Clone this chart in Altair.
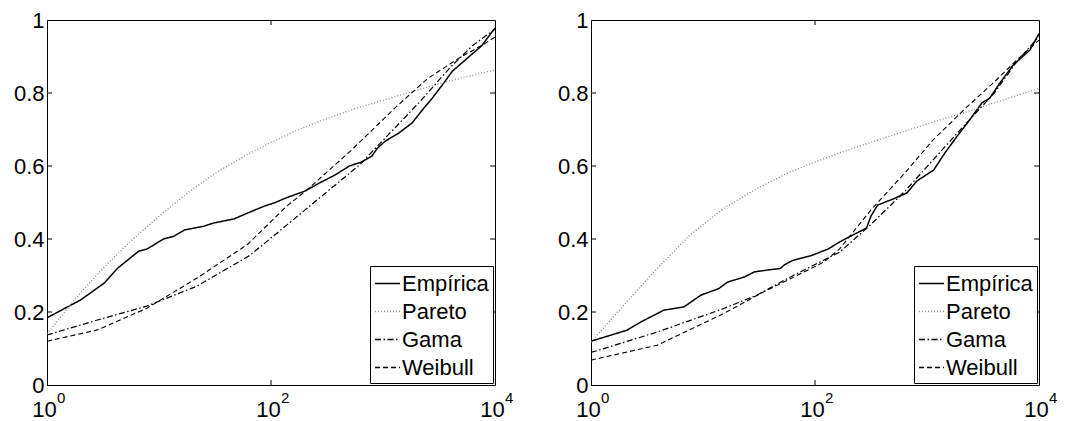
import altair as alt
import pandas as pd

# ---------- data (x given as log10 exponent) ----------
SERIES = ["Empírica", "Pareto", "Gama", "Weibull"]

# Left panel
l_emp_e = [0, 0.30, 0.51, 0.63, 0.82, 0.89, 1.04, 1.13, 1.23, 1.40, 1.49, 1.67, 1.79, 1.94, 2.03, 2.13,
           2.30, 2.43, 2.57, 2.70, 2.81, 2.90, 2.95, 3.02, 3.14, 3.26, 3.35, 3.44, 3.53, 3.62, 3.77, 3.88, 4.0]
l_emp_y = [0.184, 0.233, 0.279, 0.320, 0.367, 0.372, 0.400, 0.407, 0.425, 0.435, 0.444, 0.455, 0.471, 0.490,
           0.499, 0.512, 0.531, 0.553, 0.575, 0.600, 0.611, 0.627, 0.649, 0.668, 0.690, 0.718, 0.753, 0.786,
           0.822, 0.860, 0.900, 0.929, 0.978]
l_par_e = [0, 0.25, 0.5, 0.75, 1.0, 1.25, 1.5, 1.75, 2.0, 2.25, 2.5, 2.75, 3.0, 3.25, 3.5, 3.75, 4.0]
l_par_y = [0.14, 0.235, 0.32, 0.395, 0.462, 0.525, 0.58, 0.625, 0.665, 0.70, 0.73, 0.757, 0.78, 0.803,
           0.825, 0.845, 0.863]
l_gam_e = [0, 0.45, 0.89, 1.34, 1.81, 2.14, 2.79, 3.32, 3.6, 3.8, 4.0]
l_gam_y = [0.137, 0.178, 0.216, 0.271, 0.355, 0.438, 0.603, 0.773, 0.87, 0.93, 0.975]
l_wei_e = [0, 0.45, 0.89, 1.34, 1.79, 2.14, 2.32, 2.72, 3.11, 3.40, 3.68, 3.88, 4.0]
l_wei_y = [0.12, 0.151, 0.21, 0.293, 0.385, 0.49, 0.534, 0.644, 0.76, 0.84, 0.896, 0.93, 0.953]

# Right panel
r_emp_e = [0, 0.32, 0.46, 0.65, 0.83, 0.98, 1.14, 1.22, 1.37, 1.46, 1.60, 1.69, 1.73, 1.80, 1.97, 2.12,
           2.22, 2.30, 2.46, 2.50, 2.56, 2.70, 2.82, 2.91, 3.06, 3.16, 3.27, 3.38, 3.49, 3.56, 3.65, 3.77,
           3.92, 4.0]
r_emp_y = [0.12, 0.15, 0.175, 0.205, 0.214, 0.246, 0.264, 0.282, 0.296, 0.31, 0.316, 0.319, 0.33,
           0.341, 0.355, 0.373, 0.392, 0.405, 0.430, 0.463, 0.493, 0.510, 0.526, 0.559, 0.589, 0.636,
           0.682, 0.726, 0.773, 0.786, 0.827, 0.877, 0.918, 0.963]
r_par_e = [0, 0.29, 0.59, 0.88, 1.18, 1.48, 1.78, 2.0, 2.22, 2.46, 2.75, 3.05, 3.35, 3.65, 4.0]
r_par_y = [0.118, 0.218, 0.319, 0.41, 0.483, 0.538, 0.584, 0.611, 0.636, 0.661, 0.69, 0.72, 0.748,
           0.778, 0.813]
r_gam_e = [0, 0.59, 1.18, 1.48, 1.78, 2.22, 2.5, 2.8, 3.05, 3.3, 3.6, 3.8, 4.0]
r_gam_y = [0.089, 0.145, 0.209, 0.246, 0.296, 0.364, 0.44, 0.53, 0.615, 0.70, 0.80, 0.885, 0.955]
r_wei_e = [0, 0.59, 1.18, 1.54, 1.78, 2.08, 2.22, 2.5, 2.8, 3.05, 3.35, 3.6, 3.8, 4.0]
r_wei_y = [0.068, 0.109, 0.195, 0.255, 0.291, 0.337, 0.373, 0.48, 0.58, 0.67, 0.76, 0.83, 0.89, 0.945]

x_ticks = [1, 100, 10000]
x_exponents = ["0", "2", "4"]
y_ticks = [0, 0.2, 0.4, 0.6, 0.8, 1]
inner_y_ticks = [0.2, 0.4, 0.6, 0.8]
inner_x_ticks = [100]

W, H = 448, 365
FONT = "Liberation Sans"


def build_frame(parts):
    rows = []
    for name, e, y in parts:
        for ei, yi in zip(e, y):
            rows.append({"x": 10 ** ei, "y": yi, "serie": name})
    return pd.DataFrame(rows)


def panel(df):
    xs = alt.Scale(type="log", domain=[1, 10000], nice=False)
    ys = alt.Scale(domain=[0, 1], nice=False)
    lines = alt.Chart(df).mark_line(clip=True).encode(
        x=alt.X("x:Q", scale=xs, title=None,
                axis=alt.Axis(values=x_ticks, ticks=False, grid=False, labelFlush=False,
                              labelExpr="'10'", labelOffset=-3, labelPadding=14)),
        y=alt.Y("y:Q", scale=ys, title=None,
                axis=alt.Axis(values=y_ticks, ticks=False, grid=False, format="~g",
                              labelPadding=3)),
        color=alt.Color("serie:N", sort=SERIES,
                        scale=alt.Scale(domain=SERIES, range=["#000000", "#8c8c8c", "#000000", "#000000"]),
                        legend=alt.Legend(title=None, orient="bottom-right", offset=2)),
        strokeDash=alt.StrokeDash("serie:N", sort=SERIES,
                                  scale=alt.Scale(domain=SERIES, range=[[1, 0], [1, 2], [6, 2.5, 1.5, 2.5], [5, 3]]),
                                  legend=alt.Legend(title=None, orient="bottom-right", offset=2)),
        size=alt.Size("serie:N", scale=alt.Scale(domain=SERIES, range=[1.5, 1.1, 1.2, 1.2]), legend=None),
    )
    yt = pd.DataFrame({"t": inner_y_ticks})
    xt = pd.DataFrame({"t": inner_x_ticks})
    ex = pd.DataFrame({"t": x_ticks, "s": x_exponents})
    lt = alt.Chart(yt).mark_rule(color="black", strokeWidth=1).encode(
        y=alt.Y("t:Q", scale=ys), x=alt.value(0), x2=alt.value(5))
    rt = alt.Chart(yt).mark_rule(color="black", strokeWidth=1).encode(
        y=alt.Y("t:Q", scale=ys), x=alt.value(W - 5), x2=alt.value(W))
    bt = alt.Chart(xt).mark_rule(color="black", strokeWidth=1).encode(
        x=alt.X("t:Q", scale=xs), y=alt.value(H - 5), y2=alt.value(H))
    tt = alt.Chart(xt).mark_rule(color="black", strokeWidth=1).encode(
        x=alt.X("t:Q", scale=xs), y=alt.value(0), y2=alt.value(5))
    sup = alt.Chart(ex).mark_text(align="left", baseline="top", dx=10, font=FONT, fontSize=15,
                                  color="black").encode(
        x=alt.X("t:Q", scale=xs), y=alt.value(H + 6), text="s:N")
    return alt.layer(lines, lt, rt, bt, tt, sup).properties(width=W, height=H)


left_df = build_frame([("Empírica", l_emp_e, l_emp_y), ("Pareto", l_par_e, l_par_y),
                       ("Gama", l_gam_e, l_gam_y), ("Weibull", l_wei_e, l_wei_y)])
right_df = build_frame([("Empírica", r_emp_e, r_emp_y), ("Pareto", r_par_e, r_par_y),
                        ("Gama", r_gam_e, r_gam_y), ("Weibull", r_wei_e, r_wei_y)])

chart = alt.hconcat(panel(left_df), panel(right_df), spacing=42).resolve_legend(
    color="independent", strokeDash="independent"
).properties(
    padding={"left": 4, "top": 0, "right": 5, "bottom": 0}
).configure_view(
    stroke="black", strokeWidth=1
).configure_axis(
    domainColor="black", domainWidth=1, labelColor="black", labelFont=FONT, labelFontSize=22
).configure_legend(
    fillColor="white", strokeColor="black", strokeWidth=1, padding=4, cornerRadius=0,
    labelFont=FONT, labelFontSize=22, labelColor="black", symbolType="stroke",
    symbolSize=625, symbolStrokeWidth=1.3, rowPadding=3, labelOffset=1
)

chart.save("out.html", embed_options={"renderer": "svg", "actions": False})
